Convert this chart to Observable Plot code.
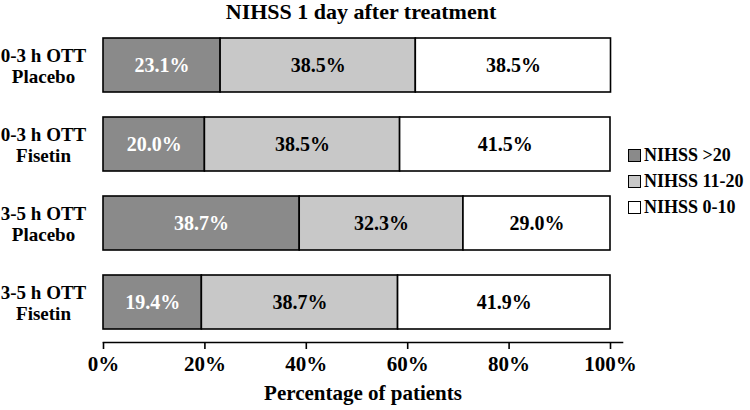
<!DOCTYPE html>
<html>
<head>
<meta charset="utf-8">
<script src="https://cdn.jsdelivr.net/npm/d3@7"></script>
<script src="https://cdn.jsdelivr.net/npm/@observablehq/plot@0.6"></script>
<style>
  body { margin: 0; background: #fff; }
  #wrap { position: relative; width: 750px; height: 410px; font-family: "Liberation Serif", "Times New Roman", serif; font-weight: bold; color: #000; }
  #title { position: absolute; top: -1px; left: 0; width: 722px; text-align: center; font-size: 22px; line-height: 26px; }
  #legend { position: absolute; left: 628px; top: 142px; font-size: 18px; }
  #legend .row { display: flex; align-items: center; height: 26px; }
  #legend .sw { width: 11px; height: 11px; border: 1px solid #000; margin-right: 3px; }
</style>
</head>
<body>
<div id="wrap">
  <div id="chart"></div>
  <div id="title">NIHSS 1 day after treatment</div>
  <div id="legend"></div>
</div>
<script>
const groups = ["0-3 h OTT\nPlacebo", "0-3 h OTT\nFisetin", "3-5 h OTT\nPlacebo", "3-5 h OTT\nFisetin"];
const categories = ["NIHSS >20", "NIHSS 11-20", "NIHSS 0-10"];
const severe = [23.1, 20.0, 38.7, 19.4];
const moderate = [38.5, 38.5, 32.3, 38.7];
const mild = [38.5, 41.5, 29.0, 41.9];
const colors = ["#8a8a8a", "#c8c8c8", "#ffffff"];
const textColors = ["#ffffff", "#000000", "#000000"];
const xTicks = [0, 20, 40, 60, 80, 100];

const series = [severe, moderate, mild];
const data = [];
groups.forEach((g, i) => {
  categories.forEach((c, j) => {
    data.push({group: g, category: c, value: series[j][i], tcolor: textColors[j]});
  });
});

const stackOpts = {x: "value", y: "group", order: categories};

const plot = Plot.plot({
  width: 750,
  height: 410,
  marginLeft: 103,
  marginRight: 128,
  marginTop: 30,
  marginBottom: 68,
  style: {fontFamily: "'Liberation Serif', 'Times New Roman', serif", fontWeight: "bold", fontSize: "19px", color: "#000"},
  x: {domain: [0, 100], insetRight: 12},
  y: {domain: groups, paddingInner: 0.315, paddingOuter: 0.1, insetBottom: 4},
  color: {domain: categories, range: colors},
  marks: [
    Plot.barX(data, Plot.stackX({...stackOpts, fill: "category", stroke: "#000", strokeWidth: 1.6})),
    Plot.text(data, Plot.stackX({...stackOpts, text: d => d.value.toFixed(1) + "%", fill: "tcolor", fontSize: 20, fontWeight: "bold"})),
    Plot.frame({anchor: "bottom", stroke: "#000", strokeWidth: 1.6}),
    Plot.axisX({ticks: xTicks, tickFormat: d => d + "%", tickSize: 7, tickPadding: 7, strokeWidth: 1.6, fontSize: 21, label: "Percentage of patients", labelAnchor: "center", labelArrow: "none", labelOffset: 57}),
    Plot.axisY({tickSize: 0, tickPadding: 60, textAnchor: "middle", fontSize: 19, label: null, lineHeight: 1.1})
  ]
});
document.getElementById("chart").appendChild(plot);

const legend = document.getElementById("legend");
categories.forEach((c, j) => {
  const row = document.createElement("div");
  row.className = "row";
  const sw = document.createElement("div");
  sw.className = "sw";
  sw.style.background = colors[j];
  const t = document.createElement("span");
  t.textContent = c;
  row.appendChild(sw);
  row.appendChild(t);
  legend.appendChild(row);
});
</script>
</body>
</html>
